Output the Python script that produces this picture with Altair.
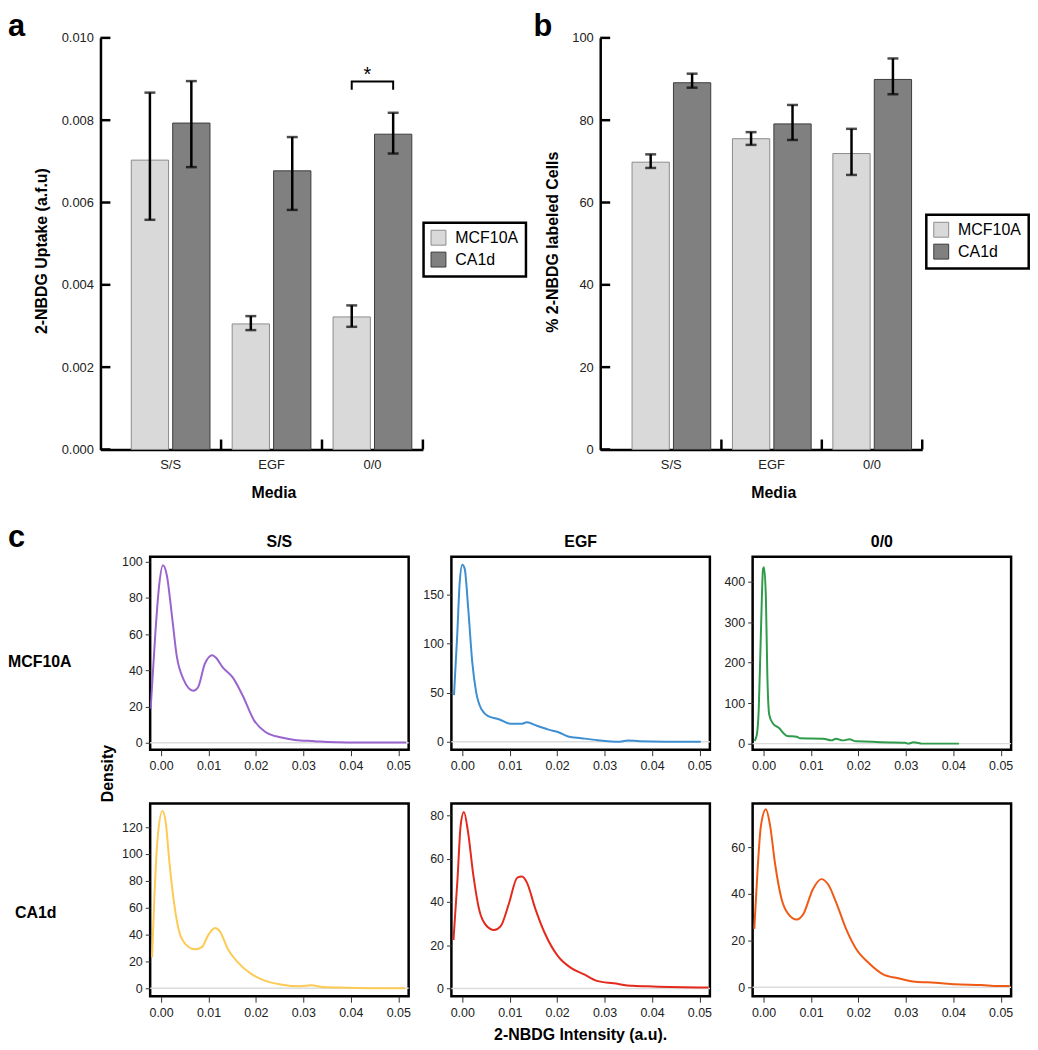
import altair as alt
import pandas as pd

FONT = "Liberation Sans"

# ---------------- data ----------------
media = ["S/S", "EGF", "0/0"]
cells = ["MCF10A", "CA1d"]

# panel a: 2-NBDG uptake (a.f.u)
uptake_mcf = [0.00703, 0.00305, 0.00322]
uptake_mcf_lo = [0.00558, 0.00290, 0.00298]
uptake_mcf_hi = [0.00867, 0.00324, 0.00350]
uptake_ca = [0.00793, 0.00677, 0.00766]
uptake_ca_lo = [0.00686, 0.00582, 0.00719]
uptake_ca_hi = [0.00895, 0.00759, 0.00818]
sig_lo, sig_hi = 0.00874, 0.00894

# panel b: % 2-NBDG labeled cells
labeled_mcf = [69.8, 75.5, 71.9]
labeled_mcf_lo = [68.4, 74.0, 66.7]
labeled_mcf_hi = [71.7, 77.1, 77.9]
labeled_ca = [89.1, 79.1, 89.9]
labeled_ca_lo = [87.9, 75.2, 86.3]
labeled_ca_hi = [91.3, 83.7, 95.0]

# panel c: density curves
ss_mcf_x = [-0.0022, -0.0012, -0.0005, 0.0004, 0.0012, 0.0023, 0.0033, 0.0047, 0.0068, 0.0078, 0.0092, 0.0108,
            0.0116, 0.0130, 0.0151, 0.0172, 0.0196, 0.0220, 0.0254, 0.0282, 0.0324, 0.0351, 0.0393, 0.0517]
ss_mcf_y = [18.8, 60.8, 84.5, 98.0, 92.7, 70.0, 48.0, 35.2, 28.8, 30.7, 43.4, 48.4,
            47.0, 41.6, 36.1, 26.1, 12.4, 6.0, 2.9, 1.6, 0.9, 0.4, 0.2, 0.2]

egf_mcf_x = [-0.00175, -0.00105, -0.00056, 0.0, 0.0005, 0.00126, 0.0021, 0.0029, 0.0041, 0.0056, 0.0077, 0.0101,
             0.0126, 0.0136, 0.0157, 0.0182, 0.0203, 0.0223, 0.0251, 0.0286, 0.0328, 0.0349, 0.0374, 0.0503]
egf_mcf_y = [47.5, 111, 161, 180, 176, 134.6, 81, 51, 32.5, 25.8, 23, 18.4,
             18.4, 19.8, 16.4, 12.4, 9.7, 5.4, 3.7, 1.7, 0.0, 1.3, 0.7, 0.0]

oo_mcf_x = [-0.0019, -0.0014, -0.0010, -0.00055, -0.0001, 0.0001, 0.0005, 0.0008, 0.0012, 0.0019, 0.0032, 0.0050,
            0.0070, 0.0077, 0.0126, 0.0143, 0.0153, 0.0167, 0.0181, 0.0195, 0.0229, 0.0250, 0.0298, 0.0305,
            0.0316, 0.0327, 0.0333, 0.0412]
oo_mcf_y = [6.5, 23, 88, 276, 431, 435, 358, 170, 72, 51, 39, 19,
            17, 13, 12, 8, 12, 8, 10.6, 5.7, 4.9, 3.3, 2.4, 0.0,
            3.3, 1.6, 0.0, 0.0]

ss_ca_x = [-0.0019, -0.0014, -0.0007, 0.0003, 0.0010, 0.0017, 0.0028, 0.0038, 0.0052, 0.0072, 0.0086, 0.0100,
           0.0114, 0.0124, 0.0141, 0.0162, 0.0190, 0.0217, 0.0252, 0.0293, 0.0317, 0.0341, 0.0390, 0.0514]
ss_ca_y = [23, 69, 113, 132, 123, 96, 62, 42.4, 32.7, 29, 30.7, 40,
           44.9, 42.4, 29, 19.3, 10.7, 5.9, 2.9, 1.5, 2.2, 1.0, 0.5, 0.0]

egf_ca_x = [-0.00186, -0.0010, -0.00034, 0.00034, 0.0012, 0.0023, 0.0036, 0.0050, 0.0067, 0.0081, 0.0098, 0.0116,
            0.0126, 0.0136, 0.0154, 0.0174, 0.0202, 0.0229, 0.0257, 0.0284, 0.0319, 0.0360, 0.0402, 0.0519]
egf_ca_y = [22.4, 51, 75.5, 81.5, 72.4, 52.7, 36, 29.2, 27, 28.8, 39, 51.2,
            51.7, 49, 36.8, 25.5, 14.8, 9.5, 6.5, 3.5, 2.4, 1.2, 0.9, 0.4]

oo_ca_x = [-0.00195, -0.00125, -0.00056, 0.0005, 0.0014, 0.0024, 0.0038, 0.0052, 0.0070, 0.0084, 0.0104, 0.0122,
           0.0136, 0.0153, 0.0174, 0.0195, 0.0223, 0.0251, 0.0286, 0.0320, 0.0362, 0.0404, 0.0460, 0.0494, 0.0519]
oo_ca_y = [25, 50.5, 69, 76.2, 69, 53.3, 37.8, 31.4, 29, 31.4, 42, 46.3,
           44.1, 36.4, 25, 16.5, 10.2, 5.7, 3.8, 2.4, 2.0, 1.3, 1.0, 0.6, 0.6]

intensity_ticks = [0.0, 0.01, 0.02, 0.03, 0.04, 0.05]

# ---------------- layout constants ----------------
HA = 414          # height of panels a and b
HC = 194          # height of each density panel
WC = 260          # width of each density panel
PI = 0.22         # inner band padding


def label(text, x, y, size=16, weight="bold", angle=0, align="left", baseline="alphabetic"):
    return alt.Chart(pd.DataFrame({"t": [text]})).mark_text(
        fontSize=size, fontWeight=weight, angle=angle, align=align, baseline=baseline,
        color="black", font=FONT,
    ).encode(text="t:N", x=alt.value(x), y=alt.value(y))


def bar_df(mcf, mcf_lo, mcf_hi, ca, ca_lo, ca_hi):
    rows = []
    for i, m in enumerate(media):
        rows.append(dict(Media=m, Cell="MCF10A", v=mcf[i], lo=mcf_lo[i], hi=mcf_hi[i]))
        rows.append(dict(Media=m, Cell="CA1d", v=ca[i], lo=ca_lo[i], hi=ca_hi[i]))
    return pd.DataFrame(rows)


def bar_panel(df, step, left, ydomain, yvals, yfmt, ytitle, ytitle_x, ytitle_y, leg_x, leg_y,
              letter, letter_x, extra=None):
    W = left + 3 * step - PI * step / 2
    po = (W / step - 3 + PI) / 2
    leftover = W - step * (3 - PI)
    align = left / leftover
    xscale = alt.Scale(domain=media, paddingInner=PI, paddingOuter=po, align=align)
    xoff = alt.XOffset("Cell:N", scale=alt.Scale(domain=cells, paddingInner=0.1, paddingOuter=0))
    yscale = alt.Scale(domain=ydomain, nice=False, zero=True)
    base = alt.Chart(df)

    bars = base.mark_bar(strokeWidth=1).encode(
        x=alt.X("Media:N", scale=xscale, axis=alt.Axis(
            title="Media", ticks=False, tickSize=0, domainColor="black", domainWidth=2.5,
            labelPadding=9, labelFontSize=13, labelColor="#222", labelAngle=0,
            titleFontSize=16, titleFontWeight="bold", titleX=174, titleY=48,
            titleBaseline="alphabetic", titleAlign="center", titleAngle=0)),
        xOffset=xoff,
        y=alt.Y("v:Q", scale=yscale, axis=alt.Axis(
            title=ytitle, values=yvals, format=yfmt, ticks=False, tickSize=0, grid=False,
            domainColor="black", domainWidth=2.5, labelPadding=7, labelFontSize=13,
            labelColor="#222", titleFontSize=16, titleFontWeight="bold",
            titleX=ytitle_x, titleY=ytitle_y, titleAngle=270, titleBaseline="bottom",
            titleAlign="center")),
        color=alt.Color("Cell:N", scale=alt.Scale(domain=cells, range=["#d9d9d9", "#808080"]),
                        legend=alt.Legend(title=None, orient="none", legendX=leg_x, legendY=leg_y,
                                          direction="vertical", symbolType="square", symbolSize=225,
                                          symbolStrokeColor="#555", symbolStrokeWidth=1,
                                          labelFontSize=16, labelColor="black", labelOffset=9,
                                          padding=7, rowPadding=2, strokeColor="black",
                                          fillColor="white")),
        stroke=alt.Stroke("Cell:N", scale=alt.Scale(domain=cells, range=["#8c8c8c", "#3c3c3c"]),
                          legend=None),
    )

    # inward ticks on the y axis
    ytick = alt.Chart(pd.DataFrame({"t": yvals})).mark_rule(color="black", strokeWidth=2.5).encode(
        y=alt.Y("t:Q", scale=yscale, axis=None), x=alt.value(0), x2=alt.value(10))
    # upward separator ticks on the x axis (half a gap after each group)
    xtick = alt.Chart(pd.DataFrame({"Media": media})).mark_rule(color="black", strokeWidth=2.5).encode(
        x=alt.X("Media:N", scale=xscale, axis=None),
        xOffset=alt.value(step * (1 - PI / 2)),
        y=alt.value(HA), y2=alt.value(HA - 10))

    err = base.mark_rule(color="black", strokeWidth=2.5).encode(
        x=alt.X("Media:N", scale=xscale, axis=None), xOffset=xoff,
        y=alt.Y("lo:Q", scale=yscale, axis=None), y2="hi:Q")
    cap_lo = base.mark_tick(color="black", thickness=2.5, size=11).encode(
        x=alt.X("Media:N", scale=xscale, axis=None), xOffset=xoff,
        y=alt.Y("lo:Q", scale=yscale, axis=None))
    cap_hi = base.mark_tick(color="black", thickness=2.5, size=11).encode(
        x=alt.X("Media:N", scale=xscale, axis=None), xOffset=xoff,
        y=alt.Y("hi:Q", scale=yscale, axis=None))

    layers = [bars, ytick, xtick, err, cap_lo, cap_hi]
    if extra is not None:
        layers += extra(xscale, xoff, yscale)
    layers.append(label(letter, letter_x, -2, size=31))
    return alt.layer(*layers).resolve_axis(x="independent", y="independent").properties(
        width=W, height=HA)


def sig_layers(xscale, xoff, yscale):
    bdf = pd.DataFrame({"Media": ["0/0"] * 4, "Cell": ["MCF10A", "MCF10A", "CA1d", "CA1d"],
                        "y": [sig_lo, sig_hi, sig_hi, sig_lo], "o": [0, 1, 2, 3]})
    bracket = alt.Chart(bdf).mark_line(color="black", strokeWidth=2).encode(
        x=alt.X("Media:N", scale=xscale, axis=None), xOffset=xoff,
        y=alt.Y("y:Q", scale=yscale, axis=None), order="o:Q")
    sdf = pd.DataFrame({"Media": ["0/0"], "y": [sig_hi], "t": ["*"]})
    star = alt.Chart(sdf).mark_text(fontSize=20, baseline="alphabetic", align="center", dy=-1, dx=-5,
                                    color="black", font=FONT).encode(
        x=alt.X("Media:N", scale=xscale, axis=None), y=alt.Y("y:Q", scale=yscale, axis=None),
        text="t:N")
    return [bracket, star]


panel_a = bar_panel(bar_df(uptake_mcf, uptake_mcf_lo, uptake_mcf_hi, uptake_ca, uptake_ca_lo, uptake_ca_hi),
                    step=101.5, left=31, ydomain=[0, 0.010],
                    yvals=[0, 0.002, 0.004, 0.006, 0.008, 0.010], yfmt=".3f",
                    ytitle="2-NBDG Uptake (a.f.u)", ytitle_x=-51, ytitle_y=214,
                    leg_x=325, leg_y=186, letter="a", letter_x=-93, extra=sig_layers)

panel_b = bar_panel(bar_df(labeled_mcf, labeled_mcf_lo, labeled_mcf_hi, labeled_ca, labeled_ca_lo, labeled_ca_hi),
                    step=101, left=32, ydomain=[0, 100],
                    yvals=[0, 20, 40, 60, 80, 100], yfmt="d",
                    ytitle="% 2-NBDG labeled Cells", ytitle_x=-40, ytitle_y=205,
                    leg_x=328, leg_y=178, letter="b", letter_x=-67)


def dens_panel(xs, ys, color, ydomain, yvals, extra=None):
    df = pd.DataFrame({"x": xs, "y": ys})
    xsc = alt.Scale(domain=[-0.0023, 0.0522], nice=False, zero=False)
    ysc = alt.Scale(domain=ydomain, nice=False, zero=False)
    yaxis = alt.Axis(values=yvals, format="d", title=None, grid=False, domain=False, tickSize=5,
                     tickColor="#333", labelFontSize=12.5, labelColor="#222", labelPadding=3,
                     labelOverlap=False)
    xaxis = alt.Axis(values=intensity_ticks, format=".2f", title=None, grid=False, domain=False,
                     tickSize=6, tickColor="#333", labelFontSize=12.5, labelColor="#222",
                     labelPadding=4, labelFlush=False, labelOverlap=False)
    zero = alt.Chart(pd.DataFrame({"y": [0]})).mark_rule(color="#dcdcdc", strokeWidth=1.5).encode(
        y=alt.Y("y:Q", scale=ysc, axis=yaxis))
    line = alt.Chart(df).mark_line(color=color, strokeWidth=2, interpolate="monotone", clip=True).encode(
        x=alt.X("x:Q", scale=xsc, axis=xaxis),
        y=alt.Y("y:Q", scale=ysc, axis=yaxis),
    )
    layers = [zero, line]
    if extra:
        layers += extra
    return alt.layer(*layers).properties(
        width=WC, height=HC, view=alt.ViewBackground(stroke="black", strokeWidth=2.5))


c11 = dens_panel(ss_mcf_x, ss_mcf_y, "#9a64cf", [-3.8, 102.7], [0, 20, 40, 60, 80, 100],
                 [label("S/S", WC / 2, -10, align="center")])
c12 = dens_panel(egf_mcf_x, egf_mcf_y, "#3d8fd1", [-8, 188], [0, 50, 100, 150],
                 [label("EGF", WC / 2, -10, align="center")])
c13 = dens_panel(oo_mcf_x, oo_mcf_y, "#2e9c4a", [-15, 461], [0, 100, 200, 300, 400],
                 [label("0/0", WC / 2, -10, align="center")])
c21 = dens_panel(ss_ca_x, ss_ca_y, "#fdca55", [-5.9, 137.6], [0, 20, 40, 60, 80, 100, 120])
c22 = dens_panel(egf_ca_x, egf_ca_y, "#e32a1c", [-3.6, 85.5], [0, 20, 40, 60, 80],
                 [label("2-NBDG Intensity (a.u).", WC / 2, HC + 44, align="center")])
c23 = dens_panel(oo_ca_x, oo_ca_y, "#f05a14", [-3.8, 78.7], [0, 20, 40, 60])

spB = alt.layer(
    label("c", -93, -10, size=31),
    label("MCF10A", -93, 111),
    label("Density", 8, HC + 24, angle=270, align="center", baseline="middle"),
).properties(width=7, height=HC)
spC = alt.layer(label("CA1d", -86, 115)).properties(width=7, height=HC)

gap1 = label("", 0, 0).properties(width=1, height=522)
gap2 = label("", 0, 0).properties(width=1, height=248)

rowA = alt.hconcat(panel_a, panel_b, spacing=177.7, bounds="flush").resolve_scale(
    color="independent", stroke="independent")
rowB = alt.hconcat(spB, c11, c12, c13, spacing=43, bounds="flush")
rowC = alt.hconcat(spC, c21, c22, c23, spacing=43, bounds="flush")

chart = alt.vconcat(rowA, gap1, rowB, gap2, rowC, spacing=0, bounds="flush").properties(
    padding=0
).configure(font=FONT).configure_view(stroke=None).configure_legend(strokeWidth=2.5)

chart.save("out.html", embed_options={"renderer": "svg", "actions": False})
